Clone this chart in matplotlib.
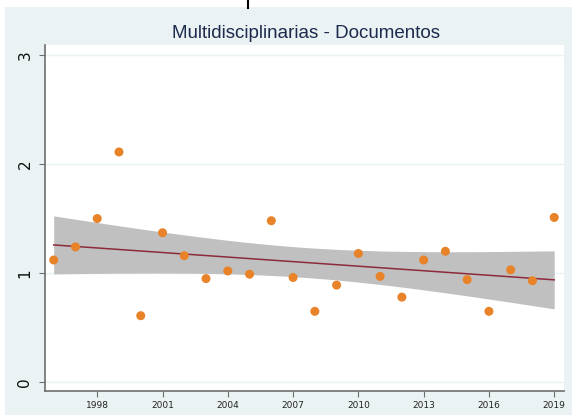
import numpy as np
import matplotlib.pyplot as plt
from matplotlib.patches import Rectangle
from matplotlib.lines import Line2D

# datos
anios = [1996, 1997, 1998, 1999, 2000, 2001, 2002, 2003, 2004, 2005, 2006, 2007,
         2008, 2009, 2010, 2011, 2012, 2013, 2014, 2015, 2016, 2017, 2018, 2019]
documentos = [1.12, 1.24, 1.50, 2.11, 0.61, 1.37, 1.16, 0.95, 1.02, 0.99, 1.48, 0.96,
              0.65, 0.89, 1.18, 0.97, 0.78, 1.12, 1.20, 0.94, 0.65, 1.03, 0.93, 1.51]
xticks = [1998, 2001, 2004, 2007, 2010, 2013, 2016, 2019]
yticks = [0, 1, 2, 3]
titulo = "Multidisciplinarias - Documentos"

x = np.array(anios, dtype=float)
y = np.array(documentos)
n = len(x)

# ajuste lineal con intervalo de confianza al 95% (como lfitci)
b, a = np.polyfit(x, y, 1)
res = y - (a + b * x)
s = np.sqrt(np.sum(res**2) / (n - 2))
xs = np.linspace(x.min(), x.max(), 100)
yfit = a + b * xs
se = s * np.sqrt(1 / n + (xs - x.mean())**2 / np.sum((x - x.mean())**2))
t = 2.074
lo = yfit - t * se
hi = yfit + t * se

fondo = '#eaf2f3'
fig = plt.figure(figsize=(5.72, 4.15), dpi=100, facecolor='white')
fig.patches.append(Rectangle((5 / 572, 0), 1, 1 - 7 / 415, transform=fig.transFigure,
                             facecolor=fondo, edgecolor='none', zorder=-1))
fig.add_artist(Line2D([248 / 572, 248 / 572], [1, 1 - 8 / 415], color='black', lw=1.5))

ax = fig.add_axes([45 / 572, 1 - 391 / 415, 519 / 572, 346 / 415])
ax.set_facecolor('white')

ax.fill_between(xs, lo, hi, color='#c0c0c0', linewidth=0, zorder=2)
ax.plot(xs, yfit, color='#8c2b3a', lw=1.1, zorder=3)
ax.scatter(x, y, s=42, color='#e8832a', edgecolors='none', zorder=4)

ax.set_xlim(1995.6, 2019.45)
ax.set_ylim(-0.08, 3.09)
ax.set_xticks(xticks)
ax.set_yticks(yticks)
ax.set_xticklabels([str(v) for v in xticks], fontsize=6.5, color='#222222')
ax.set_yticklabels([str(v) for v in yticks], fontsize=11, rotation=90, va='center', color='#111111')
ax.grid(axis='y', color=fondo, lw=1, zorder=1)
ax.set_axisbelow(True)

for lado in ['top', 'right']:
    ax.spines[lado].set_visible(False)
for lado in ['left', 'bottom']:
    ax.spines[lado].set_color('#6e6e6e')
    ax.spines[lado].set_linewidth(1.2)
ax.tick_params(axis='both', direction='out', color='#6e6e6e', length=4, width=0.8)
ax.tick_params(axis='y', pad=5)

fig.text(306 / 572, 1 - 33 / 415, titulo, ha='center', va='center', fontsize=13.5,
         color='#1c2a4e', family='Liberation Sans')

fig.savefig('out.png', dpi=100, facecolor=fig.get_facecolor())
